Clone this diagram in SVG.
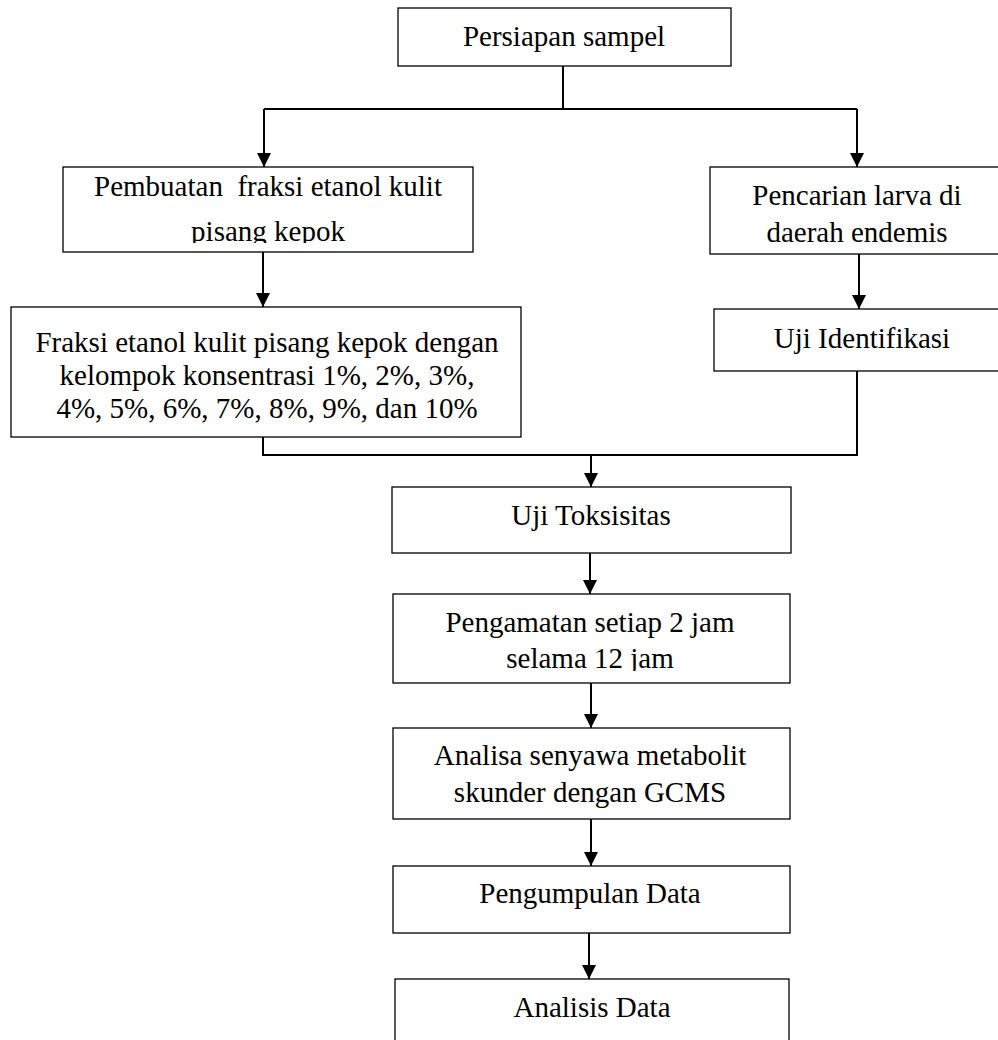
<svg xmlns="http://www.w3.org/2000/svg" width="998" height="1040" viewBox="0 0 998 1040">
<style>
.box{fill:#fff;stroke:#000;stroke-width:1.3}
.t{font-family:"Liberation Serif","Times New Roman",serif;font-size:29px;fill:#000;text-anchor:middle}
.c{fill:none;stroke:#000;stroke-width:2}
</style>
<defs>
<marker id="ah" markerUnits="userSpaceOnUse" markerWidth="15" markerHeight="14" refX="14" refY="7" orient="auto">
<path d="M0,0 L14,7 L0,14 z" fill="#000"/>
</marker>
<clipPath id="clip2"><rect x="60" y="160" width="420" height="83"/></clipPath>
<clipPath id="clip5"><rect x="390" y="590" width="405" height="81"/></clipPath>
</defs>
<rect width="998" height="1040" fill="#fff"/>
<g id="connectors">
<path class="c" d="M563,66 V109"/>
<path class="c" d="M264,109 H857"/>
<path class="c" d="M264,109 V167" marker-end="url(#ah)"/>
<path class="c" d="M857,109 V167" marker-end="url(#ah)"/>
<path class="c" d="M263,252 V307" marker-end="url(#ah)"/>
<path class="c" d="M859,254 V309" marker-end="url(#ah)"/>
<path class="c" d="M857,371 V455 H263 V437"/>
<path class="c" d="M591,455 V487" marker-end="url(#ah)"/>
<path class="c" d="M590,553 V594" marker-end="url(#ah)"/>
<path class="c" d="M591,683 V728" marker-end="url(#ah)"/>
<path class="c" d="M591,819 V866" marker-end="url(#ah)"/>
<path class="c" d="M589,933 V979" marker-end="url(#ah)"/>
</g>
<g id="n1"><rect class="box" x="398" y="8" width="333" height="58"/><text class="t" x="564" y="46">Persiapan sampel</text></g>
<g id="n2"><rect class="box" x="63" y="167" width="410" height="85"/>
<g clip-path="url(#clip2)"><text class="t" x="268" y="196" xml:space="preserve">Pembuatan  fraksi etanol kulit</text><text class="t" x="268" y="241">pisang kepok</text></g></g>
<g id="n3"><rect class="box" x="11" y="307" width="510" height="130"/>
<text class="t" x="267" y="352">Fraksi etanol kulit pisang kepok dengan</text>
<text class="t" x="267" y="385">kelompok konsentrasi 1%, 2%, 3%,</text>
<text class="t" x="267" y="418">4%, 5%, 6%, 7%, 8%, 9%, dan 10%</text></g>
<g id="n4"><rect class="box" x="710" y="167" width="300" height="87"/>
<text class="t" x="857" y="205">Pencarian larva di</text><text class="t" x="857" y="242">daerah endemis</text></g>
<g id="n5"><rect class="box" x="714" y="309" width="296" height="62"/><text class="t" x="862" y="348">Uji Identifikasi</text></g>
<g id="n6"><rect class="box" x="392" y="487" width="399" height="66"/><text class="t" x="591" y="525">Uji Toksisitas</text></g>
<g id="n7"><rect class="box" x="393" y="594" width="397" height="89"/>
<g clip-path="url(#clip5)"><text class="t" x="590" y="632">Pengamatan setiap 2 jam</text><text class="t" x="590" y="668">selama 12 jam</text></g></g>
<g id="n8"><rect class="box" x="393" y="728" width="397" height="91"/>
<text class="t" x="590" y="765">Analisa senyawa metabolit</text><text class="t" x="590" y="802">skunder dengan GCMS</text></g>
<g id="n9"><rect class="box" x="393" y="866" width="397" height="67"/><text class="t" x="590" y="903">Pengumpulan Data</text></g>
<g id="n10"><rect class="box" x="395" y="979" width="394" height="70"/><text class="t" x="592" y="1017">Analisis Data</text></g>
</svg>
